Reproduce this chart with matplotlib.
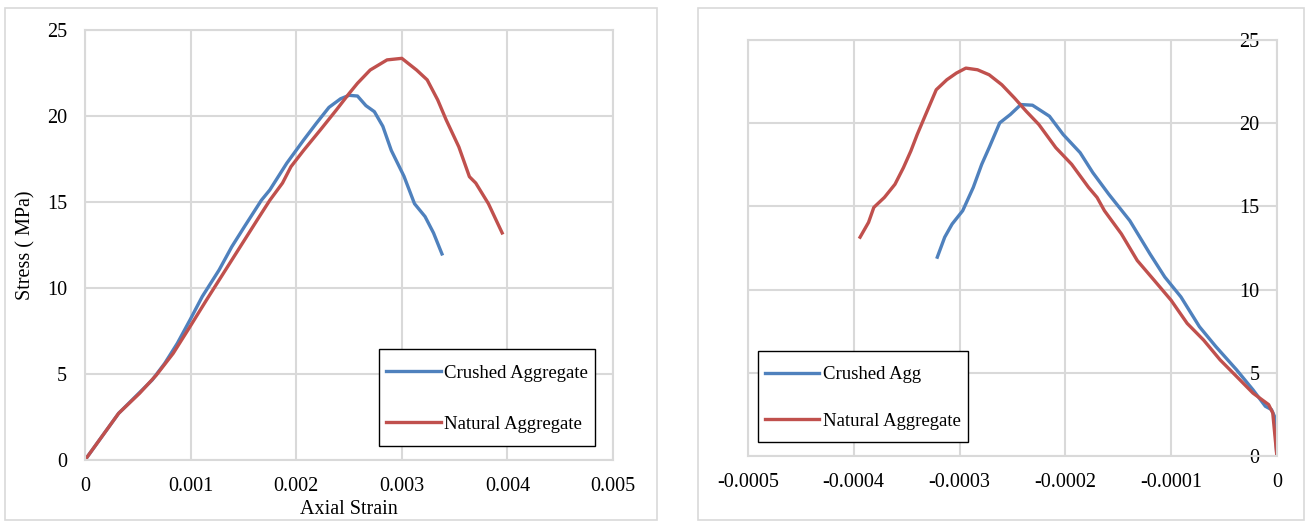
import matplotlib
matplotlib.use("Agg")
import matplotlib.pyplot as plt
import numpy as np
from matplotlib.patches import Rectangle

# left panel: stress vs axial strain
crushed_strain = [0, 0.000318, 0.000477, 0.000636, 0.000755, 0.000874, 0.000994, 0.00111,
                  0.00127, 0.00139, 0.00151, 0.00167, 0.00175, 0.00191, 0.00207, 0.00219,
                  0.00231, 0.00242, 0.0025, 0.00258, 0.00266, 0.00274, 0.00282, 0.0029,
                  0.00302, 0.00312, 0.00322, 0.0033, 0.00338]
crushed_stress = [0, 2.71, 3.68, 4.65, 5.62, 6.78, 8.14, 9.5,
                  11.05, 12.4, 13.57, 15.1, 15.7, 17.25, 18.6, 19.57,
                  20.5, 21.0, 21.2, 21.16, 20.6, 20.25, 19.4, 18.0,
                  16.5, 14.9, 14.15, 13.2, 11.98]

natural_strain = [0, 0.000318, 0.000517, 0.000676, 0.000835, 0.000994, 0.00115, 0.00131,
                  0.00147, 0.00163, 0.00175, 0.00187, 0.00195, 0.00207, 0.00223, 0.00238,
                  0.0025, 0.00258, 0.0027, 0.00286, 0.003, 0.00314, 0.00324, 0.00334,
                  0.00342, 0.00354, 0.00364, 0.0037, 0.00382, 0.00395]
natural_stress = [0, 2.71, 3.88, 4.94, 6.2, 7.75, 9.3, 10.85,
                  12.4, 13.95, 15.1, 16.1, 17.05, 18.0, 19.2, 20.35,
                  21.3, 21.9, 22.67, 23.26, 23.35, 22.67, 22.1, 20.93,
                  19.77, 18.2, 16.47, 16.1, 14.9, 13.2]

# right panel: stress vs lateral strain
crushed_lat = [-0.000321, -0.000314, -0.000307, -0.000297, -0.000287, -0.000279, -0.000272,
               -0.000262, -0.000252, -0.000242, -0.000231, -0.000215, -0.000202, -0.000186,
               -0.000174, -0.000159, -0.000139, -0.00012, -0.000106, -0.0000907, -0.0000732,
               -0.0000576, -0.0000381, -0.0000226, -0.0000109, -0.0000051, -0.0000023, 0]
crushed_lat_stress = [11.95, 13.15, 13.94, 14.74, 16.14, 17.53, 18.53,
                      20.02, 20.52, 21.12, 21.08, 20.42, 19.32, 18.23,
                      17.03, 15.74, 14.14, 12.15, 10.76, 9.56, 7.77,
                      6.57, 5.18, 3.98, 2.99, 2.79, 2.39, 0]

natural_lat = [-0.000394, -0.000386, -0.000381, -0.000371, -0.000361, -0.000353, -0.000346,
               -0.00034, -0.000332, -0.000322, -0.000312, -0.000303, -0.000294, -0.000283,
               -0.000272, -0.00026, -0.000248, -0.000237, -0.000225, -0.000209, -0.000194,
               -0.000178, -0.00017, -0.000163, -0.000147, -0.000132, -0.000116, -0.0001,
               -0.0000848, -0.0000693, -0.0000537, -0.0000381, -0.0000226, -0.0000078,
               -0.0000039, 0]
natural_lat_stress = [13.15, 14.04, 14.94, 15.54, 16.33, 17.33, 18.33,
                      19.32, 20.52, 22.01, 22.61, 23.01, 23.31, 23.21,
                      22.91, 22.31, 21.51, 20.72, 19.92, 18.53, 17.53,
                      16.14, 15.54, 14.74, 13.35, 11.75, 10.56, 9.36,
                      7.97, 6.97, 5.78, 4.78, 3.78, 3.09,
                      2.59, 0]

left_xticks = [0, 0.001, 0.002, 0.003, 0.004, 0.005]
left_xlabels = ["0", "0.001", "0.002", "0.003", "0.004", "0.005"]
right_xticks = [-0.0005, -0.0004, -0.0003, -0.0002, -0.0001, 0]
right_xlabels = ["-0.0005", "-0.0004", "-0.0003", "-0.0002", "-0.0001", "0"]
yticks = [0, 5, 10, 15, 20, 25]

blue = "#4F81BD"
red = "#C0504D"
grid = "#d9d9d9"

plt.rcParams["font.family"] = ["Liberation Serif", "DejaVu Serif"]
plt.rcParams["font.size"] = 14.5

fig = plt.figure(figsize=(13.06, 5.22), dpi=100)

# panel frames
fig.patches.append(Rectangle((0.0038, 0.0038), 0.4992, 0.981, transform=fig.transFigure,
                             fill=False, edgecolor=grid, linewidth=1.2))
fig.patches.append(Rectangle((0.5345, 0.0038), 0.464, 0.981, transform=fig.transFigure,
                             fill=False, edgecolor=grid, linewidth=1.2))

ax1 = fig.add_axes([0.0651, 0.1188, 0.4043, 0.8238])
ax2 = fig.add_axes([0.5727, 0.1264, 0.405, 0.797])

for ax in (ax1, ax2):
    ax.grid(True, color=grid, linewidth=1.5)
    ax.set_axisbelow(True)
    for s in ax.spines.values():
        s.set_color(grid)
        s.set_linewidth(1.5)
    ax.set_ylim(0, 25)
    ax.set_yticks(yticks)

leg_fs = 13.5
leg_kw = dict(loc="lower left", fancybox=False, edgecolor="black", framealpha=1,
              handlelength=2.9, handletextpad=0.2, borderpad=0.38,
              borderaxespad=0, fontsize=leg_fs)


def center_handles(leg, hh):
    # tall handle boxes lift the line above the text middle, pull it back down
    shift = (0.15 * hh - 0.105) * leg_fs
    for line in leg.get_lines():
        line.set_ydata(np.asarray(line.get_ydata()) - shift)
    leg.get_frame().set_linewidth(1.0)


# left
ax1.plot(crushed_strain, crushed_stress, color=blue, lw=2.4, label="Crushed Aggregate")
ax1.plot(natural_strain, natural_stress, color=red, lw=2.4, label="Natural Aggregate")
ax1.set_xlim(0, 0.005)
ax1.set_xticks(left_xticks)
ax1.set_xticklabels(left_xlabels)
ax1.tick_params(axis="x", length=0, pad=12)
ax1.tick_params(axis="y", length=0, pad=13)
ax1.set_xlabel("Axial Strain", labelpad=3)
ax1.set_ylabel("Stress ( MPa)", labelpad=8)
leg1 = ax1.legend(bbox_to_anchor=(0.557, 0.033), handleheight=2.2, labelspacing=1.04, **leg_kw)
center_handles(leg1, 2.2)

# right
ax2.plot(crushed_lat, crushed_lat_stress, color=blue, lw=2.4, label="Crushed Agg")
ax2.plot(natural_lat, natural_lat_stress, color=red, lw=2.4, label="Natural Aggregate")
ax2.set_xlim(-0.0005, 0)
ax2.set_xticks(right_xticks)
ax2.set_xticklabels(right_xlabels)
ax2.tick_params(axis="x", length=0, pad=12)
ax2.tick_params(axis="y", length=0, labelleft=False, labelright=True, left=False, right=False,
                pad=-12.5)
for lab in ax2.get_yticklabels():
    lab.set_horizontalalignment("right")
leg2 = ax2.legend(bbox_to_anchor=(0.019, 0.034), handleheight=2.1, labelspacing=0.85, **leg_kw)
center_handles(leg2, 2.1)

fig.savefig("out.png", dpi=100)
